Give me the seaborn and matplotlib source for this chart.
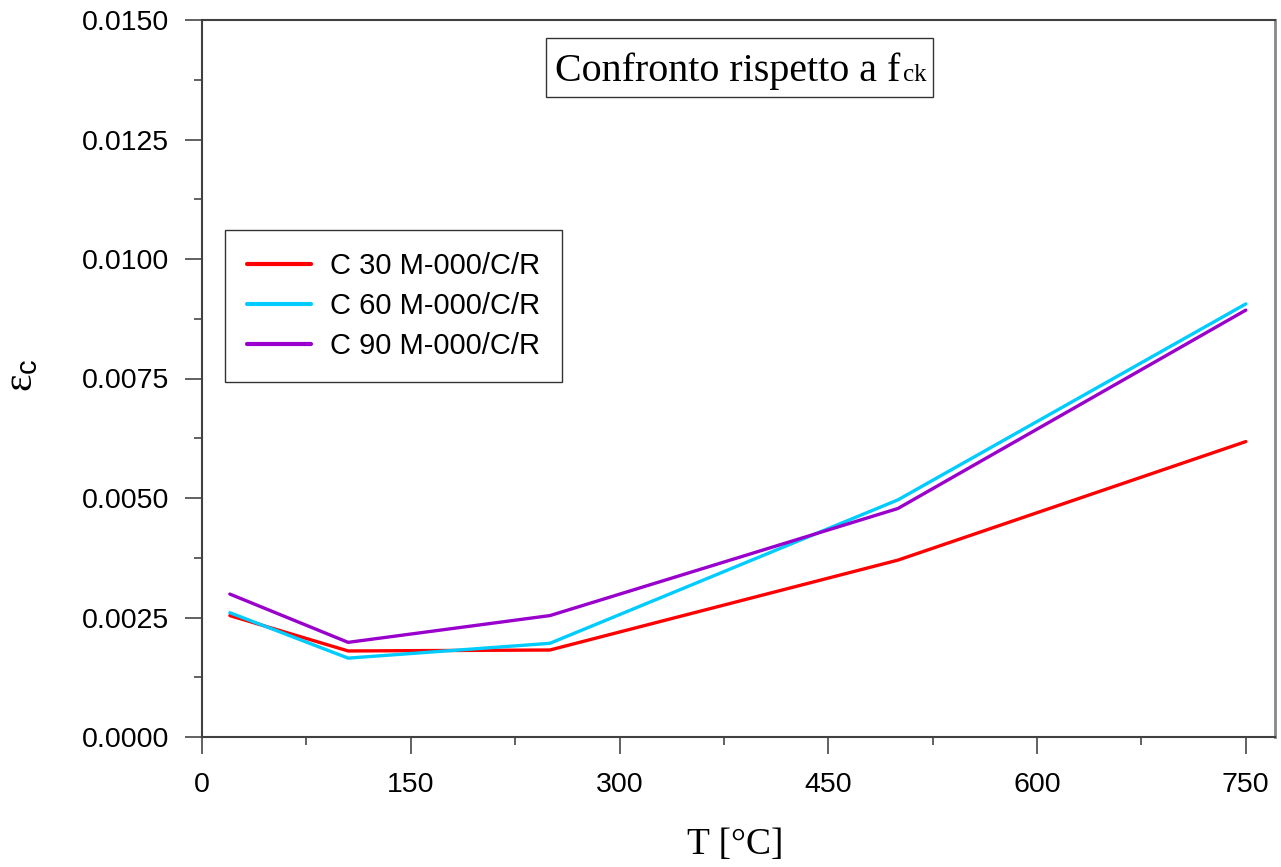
import numpy as np
import pandas as pd
import matplotlib
matplotlib.use("Agg")
import matplotlib.pyplot as plt
import seaborn as sns
from matplotlib.ticker import MultipleLocator, FormatStrFormatter
from matplotlib.patches import Rectangle

# ---- data ----
temperature = [20, 105, 250, 500, 750]
series_names = ["C 30 M-000/C/R", "C 60 M-000/C/R", "C 90 M-000/C/R"]
eps_c30 = [0.00254, 0.00180, 0.00182, 0.00370, 0.00618]
eps_c60 = [0.00260, 0.00165, 0.00196, 0.00496, 0.00906]
eps_c90 = [0.00299, 0.00198, 0.00254, 0.00478, 0.00893]
colors = ["#FF0000", "#00CCFF", "#9900CC"]

df = pd.DataFrame({
    "T": temperature * 3,
    "eps": eps_c30 + eps_c60 + eps_c90,
    "serie": [series_names[0]] * 5 + [series_names[1]] * 5 + [series_names[2]] * 5,
})

sns.set_style("ticks")
plt.rcParams["font.family"] = ["Liberation Sans", "DejaVu Sans"]
plt.rcParams["mathtext.fontset"] = "custom"
plt.rcParams["mathtext.rm"] = "Liberation Serif"
plt.rcParams["mathtext.it"] = "Liberation Serif:italic"
plt.rcParams["mathtext.bf"] = "Liberation Serif:bold"
plt.rcParams["mathtext.sf"] = "Liberation Sans"
plt.rcParams["text.color"] = "black"
plt.rcParams["axes.labelcolor"] = "black"

serif = ["Liberation Serif", "DejaVu Serif"]

fig = plt.figure(figsize=(12.81, 8.67), dpi=100)
ax = fig.add_axes([202 / 1281, 130 / 867, 1073 / 1281, 717 / 867])

sns.lineplot(data=df, x="T", y="eps", hue="serie", palette=colors,
             hue_order=series_names, linewidth=2.4, ax=ax, sort=False)

ax.set_xlim(0, 771)
ax.set_ylim(0, 0.015)
ax.xaxis.set_major_locator(MultipleLocator(150))
ax.xaxis.set_minor_locator(MultipleLocator(75))
ax.yaxis.set_major_locator(MultipleLocator(0.0025))
ax.yaxis.set_minor_locator(MultipleLocator(0.00125))
ax.yaxis.set_major_formatter(FormatStrFormatter("%.4f"))

ax.tick_params(axis="both", which="both", bottom=True, left=True, top=False, right=False)
ax.tick_params(axis="both", which="major", direction="out", length=12.5,
               width=1.3, color="#555555", labelsize=20.5, labelcolor="black")
ax.tick_params(axis="x", which="major", pad=13)
ax.tick_params(axis="y", which="major", pad=11)
ax.tick_params(axis="both", which="minor", direction="out", length=6,
               width=1.3, color="#555555")

for s in ["left", "bottom", "top"]:
    ax.spines[s].set_visible(True)
    ax.spines[s].set_color("#404040")
    ax.spines[s].set_linewidth(1.5)
ax.spines["right"].set_visible(True)
ax.spines["right"].set_color("#888888")
ax.spines["right"].set_linewidth(2.0)

ax.set_xlabel("T [°C]", fontsize=27, family=serif)
ax.set_ylabel(r"$\mathrm{ε}_{\mathsf{c}}$", fontsize=30)
ax.xaxis.set_label_coords(0.497, -0.126)
ax.yaxis.set_label_coords(-0.150, 0.505)

leg = ax.legend(loc="upper left", bbox_to_anchor=(0.0214, 0.707),
                borderaxespad=0, fontsize=21, handlelength=2.2,
                labelspacing=0.41, fancybox=False, framealpha=1,
                edgecolor="#333333", borderpad=0.75, handletextpad=0.65)
leg.get_frame().set_linewidth(1.0)
for line in leg.get_lines():
    line.set_linewidth(3.0)

# title box
fig.patches.append(Rectangle((546 / 1281, (867 - 97) / 867), 387 / 1281, 59 / 867,
                             transform=fig.transFigure, fill=False,
                             edgecolor="#333333", linewidth=1.0))
t1 = fig.text(555 / 1281, (867 - 81) / 867, "Confronto rispetto a f",
              fontsize=28.8, family=serif, va="baseline", ha="left")
fig.canvas.draw()
bb = t1.get_window_extent()
fig.text((bb.x1 + 3) / 1281, (867 - 81) / 867, "ck",
         fontsize=18, family=serif, va="baseline", ha="left")

fig.savefig("out.png", dpi=100)
